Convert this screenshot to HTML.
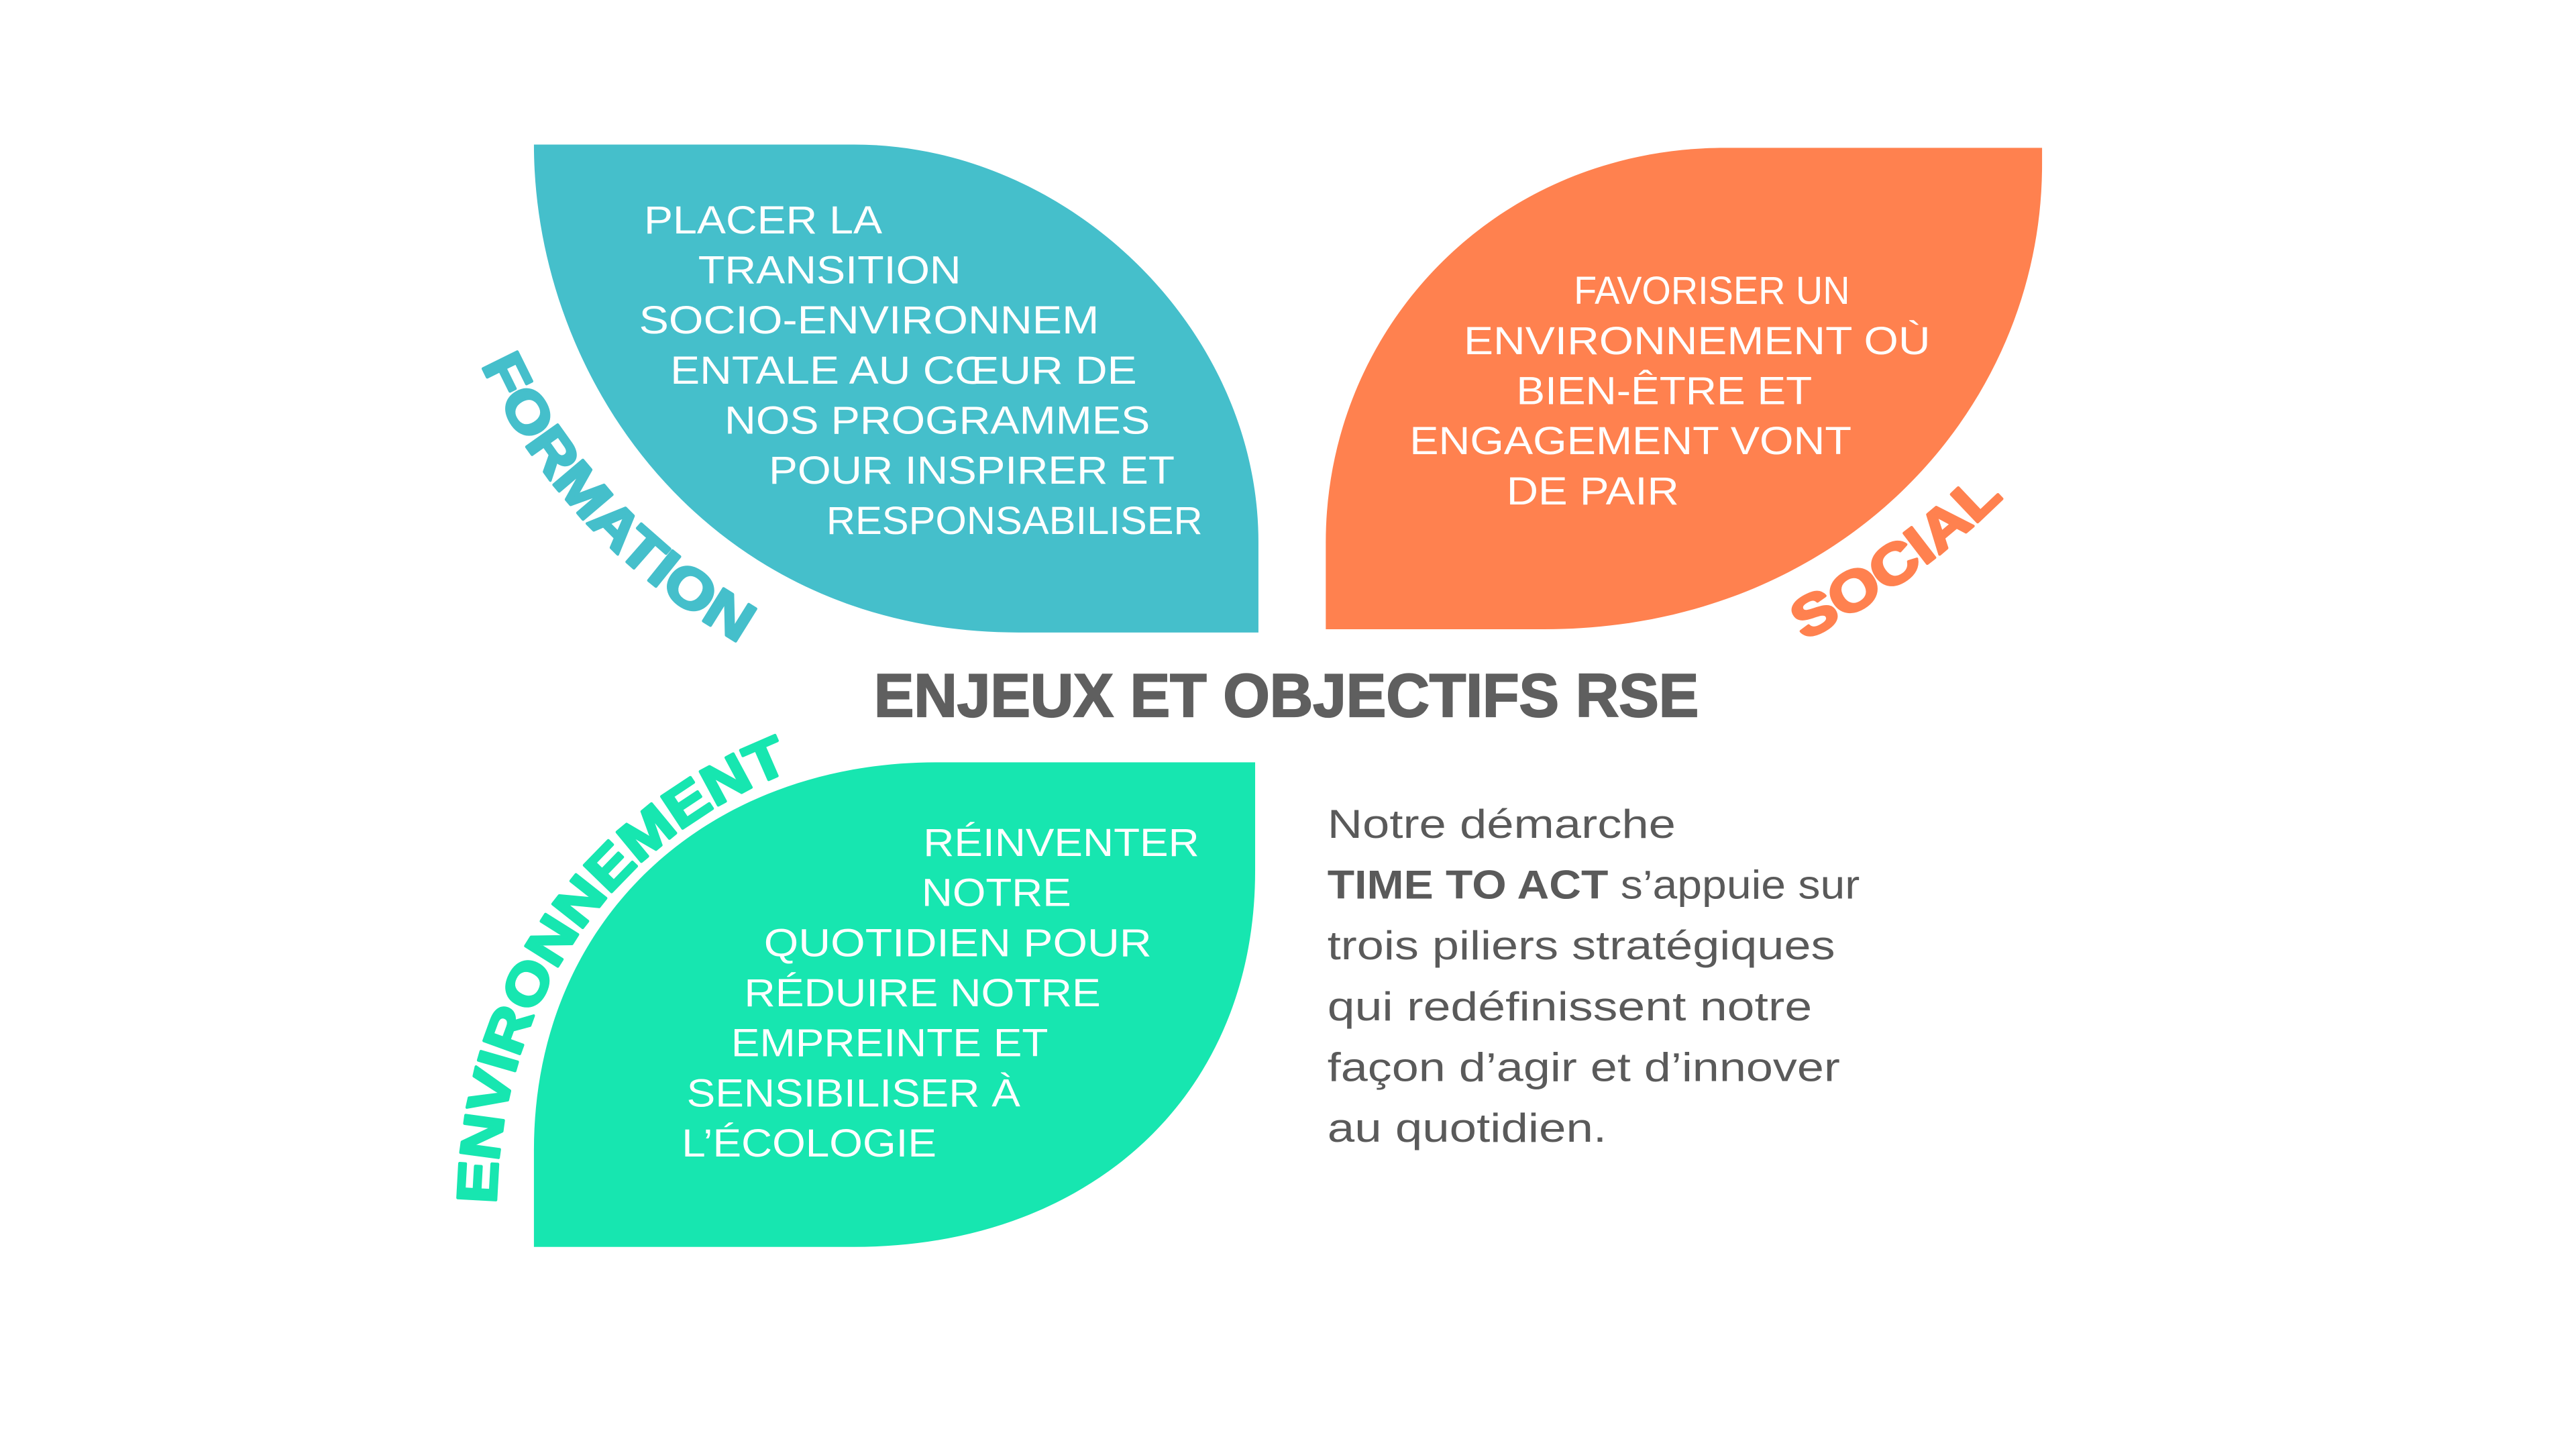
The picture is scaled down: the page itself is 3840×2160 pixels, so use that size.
<!DOCTYPE html>
<html><head><meta charset="utf-8"><style>
html,body{margin:0;padding:0;background:#fff;width:3840px;height:2160px;overflow:hidden}
svg{display:block}
.w{fill:#fff;font-family:"Liberation Sans",sans-serif;font-size:24px}
.p{fill:#5a5a5a;font-family:"Liberation Sans",sans-serif;font-size:24.5px}
.lab{font-family:"Liberation Sans",sans-serif;font-weight:bold;font-size:34px;stroke-width:1.6;stroke-linejoin:round}
</style></head><body>
<svg width="3840" height="2160" viewBox="0 0 1568 882" preserveAspectRatio="none" xmlns="http://www.w3.org/2000/svg">
<defs>
<path id="pf" d="M293,222 Q343,332 458,396"/>
<path id="ps" d="M1098,390 Q1172,352 1224,298"/>
<path id="pe" d="M302,733 C304,620 360,520 474,472"/>
</defs>
<path d="M325,88 L520,88 C650,88 766,200 766,330 L766,385 L620,385 C430,385 325,230 325,88 Z" fill="#45BFCB"/>
<path d="M1243,90 L1243,100 C1243,250 1120,383 940,383 L807,383 L807,330 C807,200 910,90 1050,90 Z" fill="#FF814F"/>
<path d="M325,759 L325,700 C325,560 430,464 570,464 L764,464 L764,530 C764,670 660,759 520,759 Z" fill="#17E6B0"/>

<g class="w">
<text x="392" y="142" textLength="145" lengthAdjust="spacingAndGlyphs">PLACER LA</text>
<text x="425" y="172.5" textLength="160" lengthAdjust="spacingAndGlyphs">TRANSITION</text>
<text x="389" y="203" textLength="280" lengthAdjust="spacingAndGlyphs">SOCIO-ENVIRONNEM</text>
<text x="408" y="233.5" textLength="284" lengthAdjust="spacingAndGlyphs">ENTALE AU CŒUR DE</text>
<text x="441" y="264" textLength="259" lengthAdjust="spacingAndGlyphs">NOS PROGRAMMES</text>
<text x="468" y="294.5" textLength="247" lengthAdjust="spacingAndGlyphs">POUR INSPIRER ET</text>
<text x="503" y="325" textLength="229" lengthAdjust="spacingAndGlyphs">RESPONSABILISER</text>

<text x="958" y="185" textLength="168" lengthAdjust="spacingAndGlyphs">FAVORISER UN</text>
<text x="891" y="215.5" textLength="284" lengthAdjust="spacingAndGlyphs">ENVIRONNEMENT OÙ</text>
<text x="923" y="246" textLength="180" lengthAdjust="spacingAndGlyphs">BIEN-ÊTRE ET</text>
<text x="858" y="276.5" textLength="269" lengthAdjust="spacingAndGlyphs">ENGAGEMENT VONT</text>
<text x="917" y="307" textLength="105" lengthAdjust="spacingAndGlyphs">DE PAIR</text>

<text x="562" y="521" textLength="168" lengthAdjust="spacingAndGlyphs">RÉINVENTER</text>
<text x="561" y="551.5" textLength="91" lengthAdjust="spacingAndGlyphs">NOTRE</text>
<text x="465" y="582" textLength="236" lengthAdjust="spacingAndGlyphs">QUOTIDIEN POUR</text>
<text x="453" y="612.5" textLength="217" lengthAdjust="spacingAndGlyphs">RÉDUIRE NOTRE</text>
<text x="445" y="643" textLength="193" lengthAdjust="spacingAndGlyphs">EMPREINTE ET</text>
<text x="418" y="673.5" textLength="203" lengthAdjust="spacingAndGlyphs">SENSIBILISER À</text>
<text x="415" y="704" textLength="155" lengthAdjust="spacingAndGlyphs">L’ÉCOLOGIE</text>
</g>

<text x="532" y="436" textLength="502" lengthAdjust="spacingAndGlyphs" fill="#5f5f5f" stroke="#5f5f5f" stroke-width="0.9" font-family="Liberation Sans, sans-serif" font-weight="bold" font-size="37">ENJEUX ET OBJECTIFS RSE</text>

<g class="p">
<text x="808" y="510" textLength="212" lengthAdjust="spacingAndGlyphs">Notre démarche</text>
<text x="808" y="547" textLength="324" lengthAdjust="spacingAndGlyphs"><tspan font-weight="bold">TIME TO ACT</tspan> s’appuie sur</text>
<text x="808" y="584" textLength="309" lengthAdjust="spacingAndGlyphs">trois piliers stratégiques</text>
<text x="808" y="621" textLength="295" lengthAdjust="spacingAndGlyphs">qui redéfinissent notre</text>
<text x="808" y="658" textLength="312" lengthAdjust="spacingAndGlyphs">façon d’agir et d’innover</text>
<text x="808" y="695" textLength="170" lengthAdjust="spacingAndGlyphs">au quotidien.</text>
</g>

<text class="lab" fill="#45BFCB" stroke="#45BFCB"><textPath href="#pf" textLength="235" lengthAdjust="spacingAndGlyphs">FORMATION</textPath></text>
<text class="lab" fill="#FF814F" stroke="#FF814F"><textPath href="#ps" textLength="150" lengthAdjust="spacingAndGlyphs">SOCIAL</textPath></text>
<text class="lab" fill="#17E6B0" stroke="#17E6B0"><textPath href="#pe" textLength="340" lengthAdjust="spacingAndGlyphs">ENVIRONNEMENT</textPath></text>
</svg>
</body></html>
